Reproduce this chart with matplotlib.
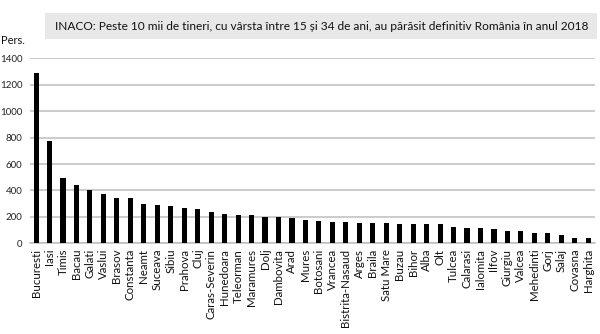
import matplotlib
matplotlib.use("Agg")
import matplotlib.pyplot as plt
from matplotlib.patches import Rectangle

counties = ["Bucuresti", "Iasi", "Timis", "Bacau", "Galati", "Vaslui", "Brasov",
            "Constanta", "Neamt", "Suceava", "Sibiu", "Prahova", "Cluj",
            "Caras-Severin", "Hunedoara", "Teleorman", "Maramures", "Dolj",
            "Dambovita", "Arad", "Mures", "Botosani", "Vrancea", "Bistrita-Nasaud",
            "Arges", "Braila", "Satu Mare", "Buzau", "Bihor", "Alba", "Olt",
            "Tulcea", "Calarasi", "Ialomita", "Ilfov", "Giurgiu", "Valcea",
            "Mehedinti", "Gorj", "Salaj", "Covasna", "Harghita"]
persons = [1292, 776, 494, 444, 402, 376, 344, 344, 301, 289, 284, 270, 259,
           240, 222, 217, 217, 200, 200, 195, 178, 165, 160, 160, 156, 156,
           157, 147, 147, 143, 143, 125, 118, 113, 105, 95, 95, 75, 75, 60,
           43, 38]
yticks = [0, 200, 400, 600, 800, 1000, 1200, 1400]
title = "INACO: Peste 10 mii de tineri, cu vârsta între 15 și 34 de ani, au părăsit definitiv România în anul 2018"

FONT = ["Lato", "DejaVu Sans"]
plt.rcParams["font.family"] = FONT

fig = plt.figure(figsize=(6, 3.34), dpi=100)
ax = fig.add_axes([30 / 600, 1 - 243.3 / 334, 565 / 600, (243.3 - 58.3) / 334])

x = list(range(len(counties)))
ax.bar(x, persons, width=0.38, color="black", zorder=3)
ax.set_xlim(-0.45, len(counties) - 0.5)
ax.set_ylim(0, 1400)
ax.set_yticks(yticks)
ax.set_yticklabels([str(v) for v in yticks], fontsize=7, color="#222222")
ax.set_xticks(x)
ax.set_xticklabels(counties, rotation=90, fontsize=8.3, color="#111111")
ax.tick_params(axis="x", length=0, pad=4)
ax.tick_params(axis="y", length=0, pad=5.5)
ax.grid(axis="y", color="#bdbdbd", linewidth=1.1, zorder=0)
for s in ["top", "right", "left"]:
    ax.spines[s].set_visible(False)
ax.spines["bottom"].set_color("#bdbdbd")
ax.spines["bottom"].set_linewidth(1.1)

fig.patches.append(Rectangle((45 / 600, 1 - 39 / 334), 552 / 600, 26 / 334,
                             transform=fig.transFigure, facecolor="#e8e8e8",
                             edgecolor="none", zorder=0))
t = fig.text(322 / 600, 1 - 26 / 334, title, ha="center", va="center", fontsize=10.5,
             color="#111111")
fig.canvas.draw()
w = t.get_window_extent().width
t.set_fontsize(10.5 * 540 / w)
fig.text(1 / 600, 1 - 40 / 334, "Pers.", ha="left", va="center", fontsize=8,
         color="#111111")

fig.savefig("out.png", dpi=100)
